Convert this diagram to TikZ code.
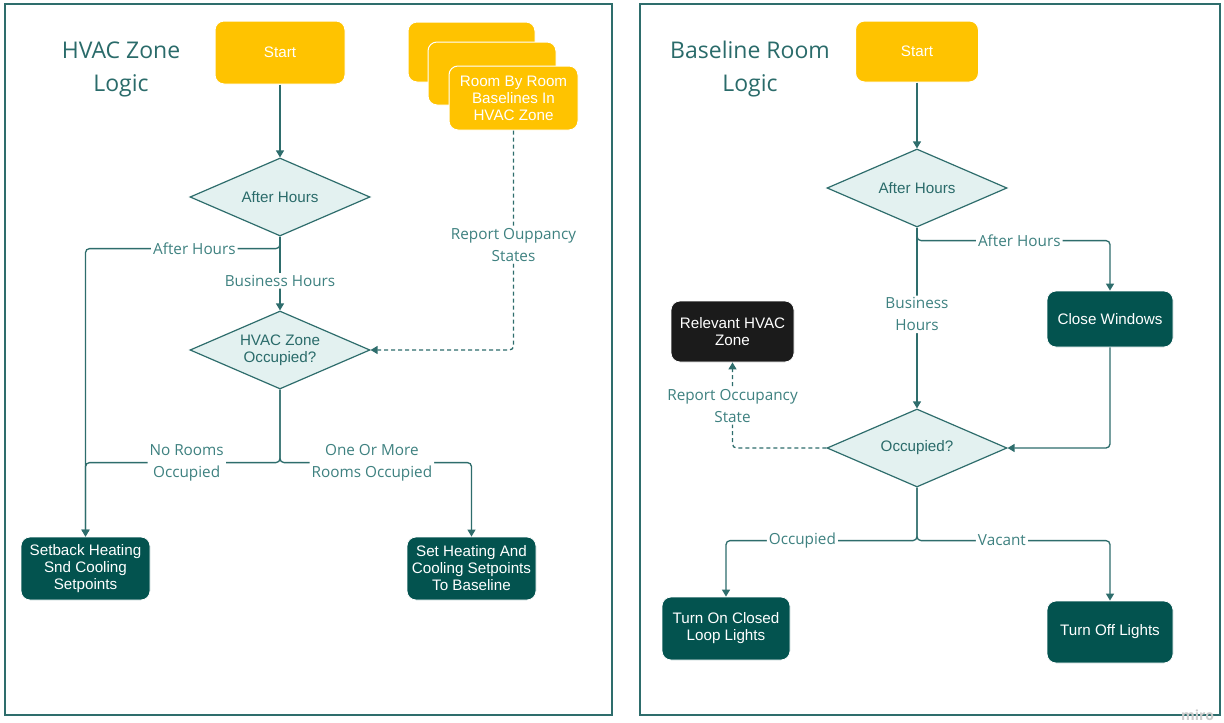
\documentclass[tikz,border=0pt]{standalone}
\usepackage{fontspec}
\setmainfont{Open Sans}
\newfontfamily\boxfont{Liberation Sans}
\usetikzlibrary{shapes.geometric,arrows.meta,calc}

\definecolor{lineteal}{HTML}{2E6D6C}
\definecolor{labelteal}{HTML}{3E8180}
\definecolor{titleteal}{HTML}{2A6B6A}
\definecolor{darkbox}{HTML}{03534F}
\definecolor{yellowbox}{HTML}{FFC300}
\definecolor{diafill}{HTML}{E3F1F0}
\definecolor{blackbox}{HTML}{1B1B1B}

\tikzset{
  frame/.style={draw=lineteal, line width=1.3pt},
  title/.style={text=titleteal, font=\fontsize{23}{33}\selectfont, align=center},
  boxbase/.style={rounded corners=9pt, align=center, text=white, inner sep=2pt,
    font=\boxfont\fontsize{15.2}{17}\selectfont},
  startbox/.style={boxbase, fill=yellowbox, draw=white, line width=1pt},
  actbox/.style={boxbase, fill=darkbox, draw=white, line width=0.8pt},
  zonebox/.style={boxbase, fill=blackbox, draw=white, line width=0.8pt},
  decision/.style={diamond, aspect=2.3, draw=lineteal, fill=diafill, line width=1.2pt,
    text=titleteal, font=\boxfont\fontsize{15.2}{17}\selectfont, align=center,
    minimum width=180pt, minimum height=78pt, inner sep=0pt},
  flow/.style={draw=lineteal, line width=1.3pt, rounded corners=4pt,
    -{Triangle[length=7pt,width=8pt]}},
  report/.style={flow, dash pattern=on 4pt off 3pt},
  lbl/.style={fill=white, text=labelteal, font=\fontsize{15.3}{22}\selectfont,
    align=center, inner sep=2pt},
}

\begin{document}
\begin{tikzpicture}[x=1pt,y=-1pt]
\useasboundingbox (0,0) rectangle (1224,723);
\fill[white] (0,0) rectangle (1224,723);

% ---------- HVAC zone logic ----------
\draw[frame] (5,4) rectangle (612,715);
\node[title] (ztitle) at (121,69) {HVAC Zone\\Logic};

\node[startbox, minimum width=130pt, minimum height=63pt] (zstart) at (280,52.5) {Start};

\node[startbox, minimum width=127pt, minimum height=60pt] (stackA) at (471.5,52) {};
\node[startbox, minimum width=128pt, minimum height=63pt] (stackB) at (492,73.5) {};
\node[startbox, minimum width=129pt, minimum height=64pt] (rooms) at (513.5,98)
  {Room By Room\\Baselines In\\HVAC Zone};

\node[decision] (zhours) at (280,197) {After Hours};
\node[decision] (zocc) at (280,350) {HVAC Zone\\Occupied?};

\node[actbox, minimum width=129pt, minimum height=63pt] (setback) at (85.5,568.5)
  {Setback Heating\\Snd Cooling\\Setpoints};
\node[actbox, minimum width=129pt, minimum height=63pt] (baseline) at (471.5,568.5)
  {Set Heating And\\Cooling Setpoints\\To Baseline};

\draw[flow] (zstart) -- (zhours);
\draw[flow] (zhours.south) -- ++(0,12) -| node[lbl,pos=0.22] {After Hours} (setback.north);
\draw[flow] (zhours.south) -- node[lbl,pos=0.6] {Business Hours} (zocc.north);
\draw[flow] (zocc.south) -- ++(0,73) -| node[lbl,pos=0.24] {No Rooms\\Occupied} (setback.north);
\draw[flow] (zocc.south) -- ++(0,73) -| node[lbl,pos=0.24] {One Or More\\Rooms Occupied} (baseline.north);
\draw[report] (rooms.south) |- node[lbl,pos=0.26] {Report Ouppancy\\States} (zocc.east);

% ---------- Baseline room logic ----------
\draw[frame] (640,4) rectangle (1220,715);
\node[title] (rtitle) at (750,69) {Baseline Room\\Logic};

\node[startbox, minimum width=123pt, minimum height=61pt] (rstart) at (917,51.5) {Start};
\node[decision] (rhours) at (917,188) {After Hours};
\node[actbox, minimum width=126pt, minimum height=56pt] (windows) at (1110,319) {Close Windows};
\node[decision] (rocc) at (917,448) {Occupied?};
\node[zonebox, minimum width=123pt, minimum height=61pt] (zone) at (732.5,331.5)
  {Relevant HVAC\\Zone};
\node[actbox, minimum width=128pt, minimum height=63pt] (lightson) at (726,628.5)
  {Turn On Closed\\Loop Lights};
\node[actbox, minimum width=126pt, minimum height=62pt] (lightsoff) at (1110,632)
  {Turn Off Lights};

\draw[flow] (rstart) -- (rhours);
\draw[flow] (rhours.south) -- ++(0,13) -| node[lbl,pos=0.265] {After Hours} (windows.north);
\draw[flow] (rhours.south) -- node[lbl,pos=0.48] {Business\\Hours} (rocc.north);
\draw[flow] (windows.south) |- (rocc.east);
\draw[report] (rocc.west) -| node[lbl,pos=0.745] {Report Occupancy\\State} (zone.south);
\draw[flow] (rocc.south) -- ++(0,53) -| node[lbl,pos=0.3] {Occupied} (lightson.north);
\draw[flow] (rocc.south) -- ++(0,53) -| node[lbl,pos=0.22] {Vacant} (lightsoff.north);

\node[text=black!20, font=\bfseries\fontsize{14}{14}\selectfont, anchor=north west,
  inner sep=0pt] (miro) at (1181,710) {miro};
\end{tikzpicture}
\end{document}
